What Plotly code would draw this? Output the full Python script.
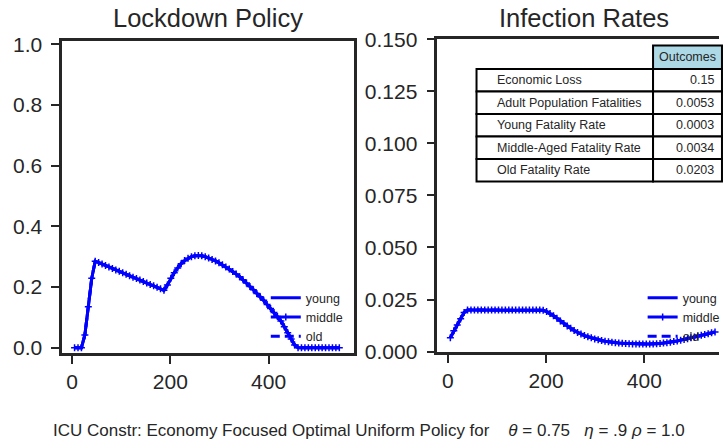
import plotly.graph_objects as go

# ---------------- data ----------------
days = list(range(5, 545, 7))  # weekly time grid (78 points)

lockdown = [0, 0, 0, 0.042, 0.135, 0.229, 0.285,
            0.281, 0.276, 0.271, 0.266, 0.261, 0.256, 0.252, 0.247, 0.242, 0.237,
            0.232, 0.228, 0.223, 0.218, 0.213, 0.208, 0.204, 0.199, 0.194, 0.189,
            0.207, 0.229, 0.247, 0.263, 0.277, 0.287, 0.295, 0.300, 0.303, 0.304,
            0.303, 0.300, 0.296, 0.291, 0.286, 0.280, 0.273, 0.266, 0.259, 0.251,
            0.243, 0.234, 0.224, 0.213, 0.202, 0.191, 0.179, 0.168, 0.156, 0.142,
            0.129, 0.116, 0.103, 0.088, 0.069, 0.049, 0.029, 0.009, 0,
            0, 0, 0, 0, 0, 0, 0, 0, 0, 0, 0, 0]

infection = [0.0067, 0.0100, 0.0128, 0.0158, 0.0188, 0.0200,
             0.0200, 0.0200, 0.0200, 0.0200, 0.0200, 0.0200, 0.0200, 0.0200, 0.0200, 0.0200, 0.0200,
             0.0200, 0.0200, 0.0200, 0.0200, 0.0200, 0.0200, 0.0200, 0.0200, 0.0200, 0.0200,
             0.0198, 0.0192, 0.0183, 0.0172, 0.0160, 0.0147, 0.0135, 0.0123, 0.0112, 0.0101,
             0.0092, 0.0084, 0.0077, 0.0071, 0.0066, 0.0061, 0.0057, 0.0053, 0.0050, 0.0047,
             0.0045, 0.0043, 0.0041, 0.0040, 0.0039, 0.0038, 0.0037, 0.0037, 0.0036, 0.0036,
             0.0036, 0.0037, 0.0037, 0.0038, 0.0039, 0.0041, 0.0043, 0.0045, 0.0048, 0.0051,
             0.0055, 0.0058, 0.0062, 0.0066, 0.0070, 0.0074, 0.0078, 0.0082, 0.0086, 0.0090,
             0.0094]

groups = ["young", "middle", "old"]

table_labels = ["Economic Loss", "Adult Population Fatalities", "Young Fatality Rate",
                "Middle-Aged Fatality Rate", "Old Fatality Rate"]
table_values = ["0.15", "0.0053", "0.0003", "0.0034", "0.0203"]
table_header = "Outcomes"

left_yticks = [0, 0.2, 0.4, 0.6, 0.8, 1.0]
right_yticks = [0, 0.025, 0.05, 0.075, 0.1, 0.125, 0.15]
xticks = [0, 200, 400]

# ---------------- layout helpers ----------------
FW, FH = 725, 444
def px(X):
    return X / FW
def py(Y):
    return 1 - Y / FH

TXT = "#262626"
FONT = "Liberation Sans, Arial, sans-serif"
BLUE = "#0000ff"

styles = {"young": dict(dash="solid", mode="lines"),
          "middle": dict(dash="solid", mode="lines+markers"),
          "old": dict(dash="9px,5px", mode="lines")}

fig = go.Figure()
for series, xa, ya, lg in [(lockdown, "x", "y", "legend"),
                           (infection, "x2", "y2", "legend2")]:
    for g in groups:
        st = styles[g]
        fig.add_trace(go.Scatter(
            x=days, y=series, name=g, mode=st["mode"],
            line=dict(color=BLUE, width=3, dash=st["dash"]),
            marker=dict(symbol="cross-thin", size=5, color=BLUE,
                        line=dict(color=BLUE, width=1.5)),
            xaxis=xa, yaxis=ya, legend=lg, hoverinfo="skip"))

axis_common = dict(showline=True, linecolor=TXT, linewidth=2.5, ticks="outside",
                   ticklen=8, tickwidth=2, tickcolor=TXT, showgrid=False,
                   zeroline=False, automargin=False,
                   tickfont=dict(size=21, color=TXT, family=FONT))

fig.update_layout(
    width=FW, height=FH, margin=dict(l=0, r=0, t=0, b=0),
    plot_bgcolor="white", paper_bgcolor="white",
    font=dict(family=FONT, color=TXT),
    xaxis=dict(domain=[px(62.7), px(357)], range=[-20.2, 574], tickvals=xticks,
               mirror=True, anchor="y", **axis_common),
    yaxis=dict(domain=[py(353), py(40.5)], range=[-0.0175, 1.0125], tickvals=left_yticks,
               tickformat=".1f", mirror=True, anchor="x", ticklabelstandoff=5, **axis_common),
    xaxis2=dict(domain=[px(441), 1.0], range=[-21.5, 552.1], tickvals=xticks,
                mirror=True, anchor="y2", **axis_common),
    yaxis2=dict(domain=[py(352), py(39.3)], range=[-0.0002, 0.15], tickvals=right_yticks,
                tickformat=".3f", mirror=False, anchor="x2", ticklabelstandoff=5, **axis_common),
    legend=dict(x=px(268), y=py(283), xanchor="left", yanchor="top",
                bgcolor="rgba(0,0,0,0)", font=dict(size=12.5, color=TXT),
                itemwidth=30, tracegroupgap=0),
    legend2=dict(x=px(648), y=py(283), xanchor="left", yanchor="top",
                 bgcolor="rgba(0,0,0,0)", font=dict(size=12.5, color=TXT),
                 itemwidth=30, tracegroupgap=0),
)

# titles
fig.add_annotation(text="Lockdown Policy", x=px(210), y=py(18.5), xref="paper", yref="paper",
                   showarrow=False, font=dict(size=25.5, color=TXT), xanchor="center", yanchor="middle")
fig.add_annotation(text="Infection Rates", x=px(588.5), y=py(18.5), xref="paper", yref="paper",
                   showarrow=False, font=dict(size=25.5, color=TXT), xanchor="center", yanchor="middle")

# bottom caption
fig.add_annotation(
    text="ICU Constr: Economy Focused Optimal Uniform Policy for&nbsp;&nbsp;&nbsp;&nbsp;<i>θ</i> = 0.75&nbsp;&nbsp;&nbsp;<i>η</i> = .9 <i>ρ</i> = 1.0",
    x=px(372.5), y=py(430), xref="paper", yref="paper", showarrow=False,
    font=dict(size=17, color=TXT, family=FONT),
    xanchor="center", yanchor="middle")

# table drawn as cells
row_edges = [69, 91.5, 114, 136.5, 159, 181.5]
x_left, x_mid, x_right = 480.5, 658.5, 728
shapes = []
shapes.append(dict(type="rect", xref="paper", yref="paper", x0=px(x_mid), x1=px(x_right),
                   y0=py(69), y1=py(45.5), fillcolor="#add8e6", line=dict(color="black", width=2)))
for i in range(len(table_labels)):
    y0, y1 = row_edges[i], row_edges[i + 1]
    shapes.append(dict(type="rect", xref="paper", yref="paper", x0=px(x_left), x1=px(x_mid),
                       y0=py(y1), y1=py(y0), fillcolor="white", line=dict(color="black", width=2)))
    shapes.append(dict(type="rect", xref="paper", yref="paper", x0=px(x_mid), x1=px(x_right),
                       y0=py(y1), y1=py(y0), fillcolor="white", line=dict(color="black", width=2)))
    ym = (y0 + y1) / 2
    fig.add_annotation(text=table_labels[i], x=px(499), y=py(ym), xref="paper", yref="paper",
                       showarrow=False, xanchor="left", yanchor="middle",
                       font=dict(size=12.5, color=TXT))
    fig.add_annotation(text=table_values[i], x=px(721.5), y=py(ym), xref="paper", yref="paper",
                       showarrow=False, xanchor="right", yanchor="middle",
                       font=dict(size=12.5, color=TXT))
fig.add_annotation(text=table_header, x=px(693), y=py(57.3), xref="paper", yref="paper",
                   showarrow=False, xanchor="center", yanchor="middle",
                   font=dict(size=12.5, color=TXT))
fig.update_layout(shapes=shapes)

# remove the default page margin so the 725x444 figure fills the window exactly
fig.write_html("out.html", config={"displayModeBar": False},
               post_script="document.body.style.margin='0';document.body.style.overflow='hidden';")
